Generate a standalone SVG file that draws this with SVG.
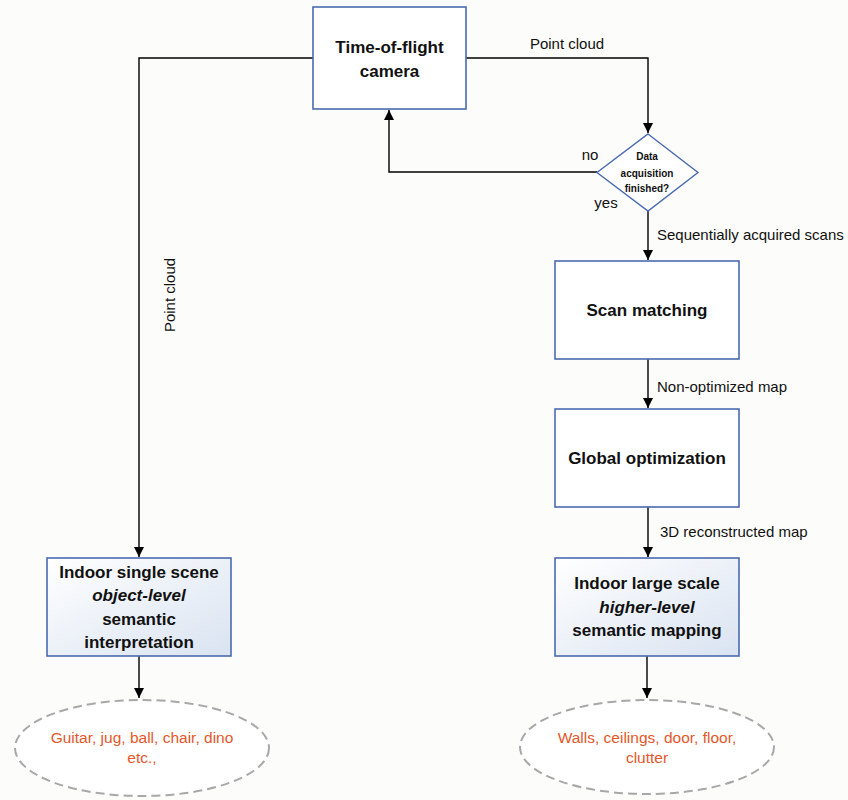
<svg xmlns="http://www.w3.org/2000/svg" width="848" height="800" viewBox="0 0 848 800">
<defs>
<marker id="arr" markerWidth="10" markerHeight="11" refX="10" refY="5" orient="auto" markerUnits="userSpaceOnUse">
<path d="M0,0 L10,5 L0,10 Z" fill="#000"/>
</marker>
<linearGradient id="bl" x1="0" y1="0" x2="1" y2="1">
<stop offset="0" stop-color="#ffffff"/>
<stop offset="1" stop-color="#d9e3f1"/>
</linearGradient>
<style>
.box{fill:#fff;stroke:#4a6bb0;stroke-width:1.6}
.gbox{fill:url(#bl);stroke:#4a6bb0;stroke-width:1.6}
.t{font-family:"Liberation Sans",Arial,sans-serif;font-size:17px;font-weight:bold;fill:#111;text-anchor:middle}
.ti{font-style:italic}
.lbl{font-family:"Liberation Sans",Arial,sans-serif;font-size:15px;fill:#111}
.dt{font-family:"Liberation Sans",Arial,sans-serif;font-size:10px;font-weight:bold;fill:#111;text-anchor:middle}
.ell{fill:#fff;stroke:#a8a8a8;stroke-width:2;stroke-dasharray:9 5}
.et{font-family:"Liberation Sans",Arial,sans-serif;font-size:15.5px;fill:#e4572a;text-anchor:middle}
.c{fill:none;stroke:#000;stroke-width:1.4}
</style>
</defs>
<rect width="848" height="800" fill="#fcfcfa"/>
<g id="connectors">
<path class="c" d="M466,58 H648 V133" marker-end="url(#arr)"/>
<path class="c" d="M597,172 H389 V110" marker-end="url(#arr)"/>
<path class="c" d="M648,211 V260" marker-end="url(#arr)"/>
<path class="c" d="M648,359 V408" marker-end="url(#arr)"/>
<path class="c" d="M648,507 V557" marker-end="url(#arr)"/>
<path class="c" d="M313,58 H139 V557" marker-end="url(#arr)"/>
<path class="c" d="M139,656 V698" marker-end="url(#arr)"/>
<path class="c" d="M647,656 V698" marker-end="url(#arr)"/>
<text class="lbl" x="567" y="49" text-anchor="middle">Point cloud</text>
<text class="lbl" x="657" y="240">Sequentially acquired scans</text>
<text class="lbl" x="657" y="392">Non-optimized map</text>
<text class="lbl" x="660" y="537">3D reconstructed map</text>
<text class="lbl" x="590" y="160" text-anchor="middle">no</text>
<text class="lbl" x="606" y="208" text-anchor="middle">yes</text>
<text class="lbl" transform="translate(175,295) rotate(-90)" text-anchor="middle">Point cloud</text>
</g>
<g id="tof">
<rect class="box" x="313" y="7" width="153" height="102"/>
<text class="t" x="389.5" y="53">Time-of-flight</text>
<text class="t" x="389.5" y="77">camera</text>
</g>
<g id="decision">
<polygon points="648,134 698,172.5 648,211 597,172.5" fill="#fff" stroke="#4a6bb0" stroke-width="1.4"/>
<text class="dt" x="647" y="160">Data</text>
<text class="dt" x="647" y="177">acquisition</text>
<text class="dt" x="647" y="192">finished?</text>
</g>
<g id="scan">
<rect class="box" x="555" y="261" width="184" height="98"/>
<text class="t" x="647" y="316">Scan matching</text>
</g>
<g id="global">
<rect class="box" x="555" y="409" width="184" height="98"/>
<text class="t" x="647" y="464">Global optimization</text>
</g>
<g id="large">
<rect class="gbox" x="555" y="558" width="184" height="98"/>
<text class="t" x="647" y="589">Indoor large scale</text>
<text class="t ti" x="647" y="613">higher-level</text>
<text class="t" x="647" y="636">semantic mapping</text>
</g>
<g id="single">
<rect class="gbox" x="47" y="558" width="184" height="98"/>
<text class="t" x="139" y="578">Indoor single scene</text>
<text class="t ti" x="139" y="601">object-level</text>
<text class="t" x="139" y="625">semantic</text>
<text class="t" x="139" y="648">interpretation</text>
</g>
<g id="objects">
<ellipse class="ell" cx="142" cy="748" rx="127" ry="48"/>
<text class="et" x="142" y="743">Guitar, jug, ball, chair, dino</text>
<text class="et" x="142" y="763">etc.,</text>
</g>
<g id="classes">
<ellipse class="ell" cx="647" cy="747" rx="127" ry="47"/>
<text class="et" x="647" y="743">Walls, ceilings, door, floor,</text>
<text class="et" x="647" y="763">clutter</text>
</g>
</svg>
